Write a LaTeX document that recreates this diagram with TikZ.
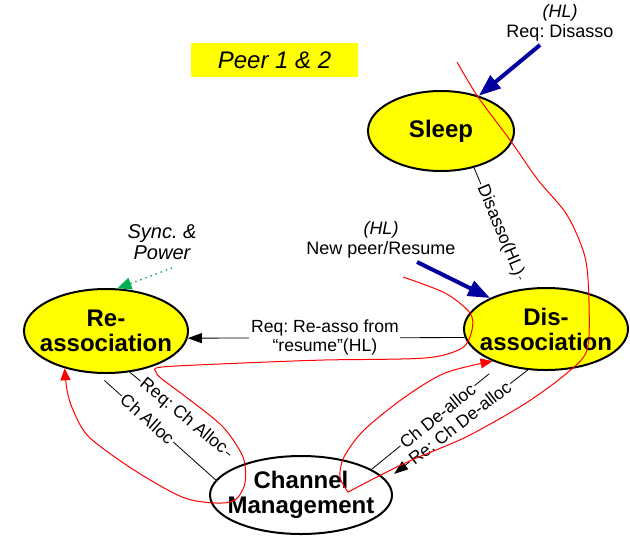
\documentclass[tikz,border=0pt]{standalone}
\usepackage{fontspec}
\setmainfont{Liberation Sans}
\frenchspacing
\usetikzlibrary{arrows.meta}
\usetikzlibrary{calc}
\usetikzlibrary{positioning}
\usetikzlibrary{shapes.geometric}
\definecolor{hlBlue}{RGB}{0,0,160}
\definecolor{syncGreen}{RGB}{0,176,80}
\definecolor{stateYellow}{RGB}{255,255,0}
\tikzstyle{state} = [ellipse,draw=black,line width=1pt,fill=stateYellow,inner sep=0pt]
\tikzstyle{statetext} = [font=\fontsize{12}{12.5}\selectfont\bfseries,align=center]
\tikzstyle{msg} = [font=\fontsize{8.8}{9.5}\selectfont,fill=white,inner sep=0.8pt,align=center]
\tikzstyle{note} = [font=\fontsize{9}{10}\selectfont,align=center]
\tikzstyle{hlarrow} = [line width=2pt,color=hlBlue,-{Triangle[length=11pt,width=8pt]}]
\tikzstyle{reply} = [-{Triangle[length=7pt,width=5pt]}]
\tikzstyle{flow} = [red,line width=0.5pt,-{Triangle[length=6pt,width=5pt]}]

\begin{document}
\begin{tikzpicture}[x=0.5pt,y=-0.5pt]

  \useasboundingbox (0,0) rectangle (630,536);

  \node[fill=stateYellow,minimum width=83.5pt,minimum height=17pt,font=\fontsize{12}{14}\selectfont\itshape] (peer) at (274.5,60) {Peer 1 \& 2};

  % states
  \node[state,minimum width=73pt,minimum height=40pt,label={[statetext]center:Sleep}] (sleep) at (441,131) {};
  \node[state,minimum width=82pt,minimum height=42pt,label={[statetext]center:Re-\\association}] (reasso) at (106,331) {};
  \node[state,minimum width=82pt,minimum height=41pt,label={[statetext]center:Dis-\\association}] (disasso) at (546,329) {};
  \node[state,fill=white,minimum width=91pt,minimum height=39pt,label={[statetext]center:Channel\\Management}] (chan) at (301,495) {};

  % hints
  \node[note] (hlreq) at (560,23) {\textit{(HL)}\\Req: Disasso};
  \node[note] (hlnew) at (381,240) {\textit{(HL)}\\New peer/Resume};
  \node[note,font=\fontsize{10}{10.5}\selectfont\itshape] (sync) at (162,242.5) {Sync. \&\\Power};

  \coordinate (reqtail) at (540,45);
  \coordinate (newtail) at (417,262);
  \coordinate (synctail) at (172,268);

  \draw[hlarrow] (reqtail) -- (sleep.43);
  \draw[hlarrow] (newtail) -- (disasso.151);
  \draw[syncGreen,dotted,line width=0.7pt,-{Triangle[length=7pt,width=6pt]}] (synctail) -- (reasso.75);

  % messages
  \draw[shorten >=5pt] (sleep.-48) -- (disasso.118) node[msg,sloped,pos=0.52] {Disasso(HL)};
  \draw[reply] (disasso.186) -- (reasso.-5) node[msg,pos=0.505] {Req: Re-asso from\\“resume”(HL)};
  \draw[shorten >=7.3pt] (reasso.-60) -- (chan.153) node[msg,sloped,pos=0.48] {Req: Ch Alloc};
  \draw[shorten <=5pt] (reasso.-102) -- (chan.170) node[msg,sloped,pos=0.425] {Ch Alloc};
  \draw[shorten >=7.5pt] (chan.20) -- (disasso.-142) node[msg,sloped,pos=0.51] {Ch De-alloc};
  \draw[reply,shorten >=5pt] (disasso.-114) -- (chan.10) node[msg,sloped,pos=0.48] {Re: Ch De-alloc};

  % red flows
  \draw[flow] plot[smooth] coordinates {(457,62) (478,97) (510,140) (538,180) (567,215) (585,257) (589,303) (587,350) (567,373) (526,403) (466,437) (405,463) (348,492)}
    -- plot[smooth] coordinates {(348,492) (340,477) (344,457) (364,430) (405,397) (445,373) (disasso.-149)};
  \draw[flow] plot[smooth] coordinates {(403,277) (445,293) (470,313) (472,330) (462,348) (425,358) (324,360) (243,363) (162,367) (156,372) (162,379) (190,400) (223,427) (243,457) (245,483) (235,500) (215,503) (182,497) (134,470) (89,437) (73,410) (67,390) (reasso.-138)};

\end{tikzpicture}
\end{document}
